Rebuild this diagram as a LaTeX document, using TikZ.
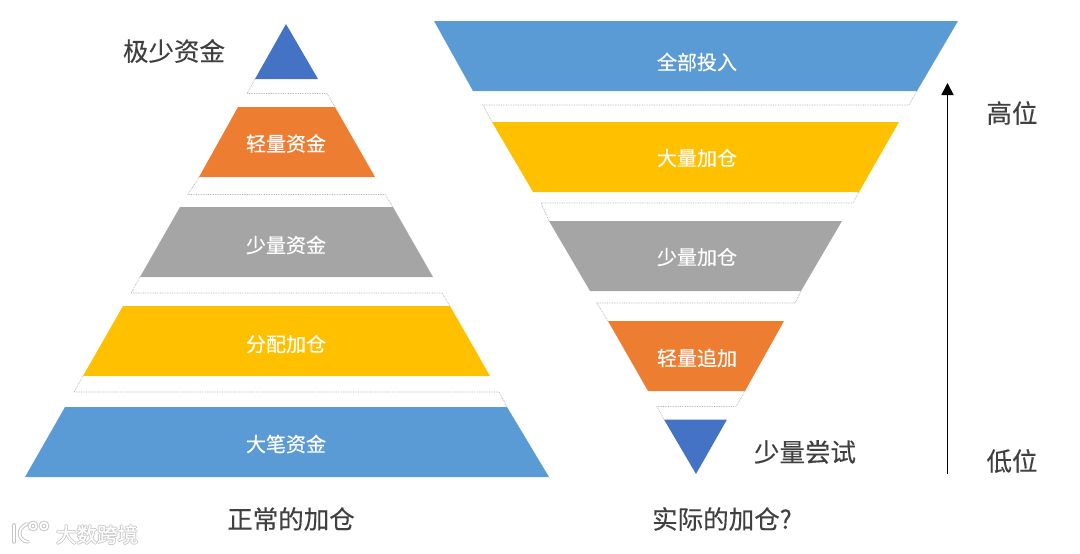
\documentclass[tikz,border=0pt]{standalone}
\usepackage{xcolor}
\usepackage{fontspec}
\setmainfont[FakeBold=0.25]{Noto Sans CJK SC}
\usetikzlibrary{arrows.meta}
\definecolor{layerblue}{RGB}{91,155,213}
\definecolor{layerorange}{RGB}{237,125,49}
\definecolor{layergray}{RGB}{165,165,165}
\definecolor{layeryellow}{RGB}{255,192,0}
\definecolor{tipblue}{RGB}{68,114,196}
\definecolor{textdark}{RGB}{64,64,64}
\definecolor{guidegray}{RGB}{170,170,170}
\definecolor{markgray}{RGB}{195,195,195}
\tikzset{
  layer label/.style={
    text=white,
    inner sep=0pt,
    font=\fontsize{20}{20}\selectfont
  },
  side label/.style={
    text=textdark,
    inner sep=0pt,
    font=\fontsize{25.5}{25.5}\selectfont
  },
  guide/.style={
    draw=guidegray,
    line width=0.7pt,
    densely dotted
  },
  mark text/.style={
    inner sep=0pt,
    font=\fontsize{20.5}{20.5}\selectfont
  },
  mark edge/.style={
    draw=markgray,
    line width=3.6pt,
    line cap=round
  },
  mark core/.style={
    draw=white,
    line width=1.8pt,
    line cap=round
  }
}

\begin{document}
\begin{tikzpicture}[x=1pt,y=-1pt]
  \useasboundingbox (0,0) rectangle (1080,554);

  % Left pyramid
  \fill[tipblue] (286,24) -- (318,79) -- (255,79) -- cycle;
  \fill[layerorange] (238,107) -- (335,107) -- (375,177) -- (199,177) -- cycle;
  \fill[layergray] (180,207) -- (393,207) -- (433,277) -- (140,277) -- cycle;
  \fill[layeryellow] (123,306) -- (450,306) -- (490,376) -- (83,376) -- cycle;
  \fill[layerblue] (65,407) -- (507,407) -- (549,477) -- (25,477) -- cycle;

  % Left guides
  \draw[guide] (255,79) -- (247,93.5) -- (327,93.5) -- (335,107);
  \draw[guide] (199,177) -- (188,194.5) -- (385,194.5) -- (393,207);
  \draw[guide] (140,277) -- (131,293) -- (442,293) -- (450,306);
  \draw[guide] (83,376) -- (74,392) -- (499,392) -- (507,407);

  % Right pyramid
  \fill[layerblue] (434,21) -- (958,21) -- (917,91) -- (473,91) -- cycle;
  \fill[layeryellow] (492,122) -- (899,122) -- (859,192) -- (533,192) -- cycle;
  \fill[layergray] (549,221) -- (842,221) -- (801,291) -- (590,291) -- cycle;
  \fill[layerorange] (608,321) -- (784,321) -- (745,391) -- (648,391) -- cycle;
  \fill[tipblue] (664,419.5) -- (727,419.5) -- (696,474) -- cycle;

  % Right guides
  \draw[guide] (917,91) -- (909,105) -- (483,105) -- (492,122);
  \draw[guide] (859,192) -- (853,203) -- (541,203) -- (549,221);
  \draw[guide] (801,291) -- (795,303) -- (597,303) -- (608,321);
  \draw[guide] (745,391) -- (736,406.5) -- (657,406.5) -- (664,419.5);

  % Layer labels
  \node[layer label] (lightfund) at (286,143.5) {轻量资金};
  \node[layer label] (smallfund) at (286,245) {少量资金};
  \node[layer label] (sharefund) at (286,344) {分配加仓};
  \node[layer label] (bigfund) at (286,444) {大笔资金};
  \node[layer label] (allin) at (697,62) {全部投入};
  \node[layer label] (bigadd) at (697,158) {大量加仓};
  \node[layer label] (smalladd) at (697,257) {少量加仓};
  \node[layer label] (lightadd) at (697,358) {轻量追加};

  % Side labels
  \node[side label] (tinyfund) at (174,51) {极少资金};
  \node[side label] (smalltry) at (805,452) {少量尝试};
  \node[side label] (normal) at (291,519) {正常的加仓};
  \node[side label] (actual) at (722,519) {实际的加仓?};
  \node[side label] (high) at (1012,113) {高位};
  \node[side label] (low) at (1012,461) {低位};

  % Height arrow
  \coordinate (arrowlow) at (947.5,474);
  \coordinate (arrowhigh) at (947.5,83);
  \draw[line width=1.7pt, -{Triangle[length=12pt,width=12pt]}] (arrowlow) -- (arrowhigh);

  % Watermark
  \foreach \layer in {mark edge, mark core} {
    \draw[\layer] (14,525) -- (14,542);
    \draw[\layer] (27,524) .. controls (17,528) and (17,540) .. (28,542);
    \draw[\layer] (33,526) circle (3.5);
    \draw[\layer] (44,526) circle (3.5);
  }
  \foreach \dx/\dy [count=\i] in {-0.8/0, 0.8/0, 0/-0.8, 0/0.8}
    \node[mark text, text=markgray] (markedge\i) at (97+\dx,534.5+\dy) {大数跨境};
  \node[mark text, text=white] (marktext) at (97,534.5) {大数跨境};
\end{tikzpicture}
\end{document}
